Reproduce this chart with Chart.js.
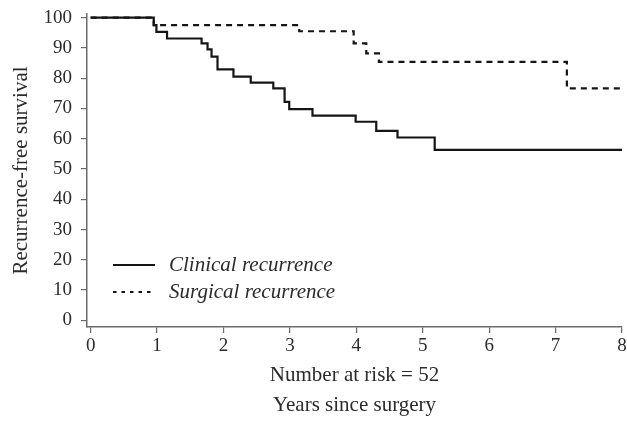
<!DOCTYPE html>
<html>
<head>
<meta charset="utf-8">
<script src="https://cdn.jsdelivr.net/npm/chart.js@4"></script>
<style>
  html, body { margin: 0; padding: 0; background: #fff; }
  canvas { display: block; }
</style>
</head>
<body>
<canvas id="kmChart" width="627" height="421"></canvas>
<script>
// Kaplan-Meier steps (years, % recurrence-free)
const clinicalYears = [0, 0.95, 0.99, 1.15, 1.67, 1.76, 1.82, 1.91, 2.15, 2.41, 2.75, 2.92, 2.99, 3.34, 3.99, 4.30, 4.62, 5.18, 8];
const clinicalSurvival = [100, 97.5, 95.3, 93.1, 91.5, 89.5, 87.1, 82.9, 80.5, 78.5, 76.6, 72.2, 69.8, 67.6, 65.6, 62.6, 60.4, 56.3, 56.3];

const surgicalYears = [0, 0.95, 3.14, 3.96, 4.15, 4.34, 7.17, 8];
const surgicalSurvival = [100, 97.5, 95.5, 91.5, 88.2, 85.4, 76.6, 76.6];

const xTicks = [0, 1, 2, 3, 4, 5, 6, 7, 8];
const yTicks = [0, 10, 20, 30, 40, 50, 60, 70, 80, 90, 100];

const seriesLabels = ['Clinical recurrence', 'Surgical recurrence'];
const xTitleLines = ['Number at risk = 52', 'Years since surgery'];
const yTitle = 'Recurrence-free survival';

const serif = "'Liberation Serif', 'Times New Roman', serif";
const axisGrey = '#6b6b6b';
const textColor = '#2b2b2b';
const lineColor = '#151515';

function toPoints(xs, ys) {
    return xs.map((x, i) => ({ x: x, y: ys[i] }));
}

// legend drawn inside the plot, lower left
const insideLegend = {
    id: 'insideLegend',
    afterDatasetsDraw(chart) {
        const ctx = chart.ctx;
        const area = chart.chartArea;
        const x0 = area.left + 26;
        const rows = [265, 292];
        ctx.save();
        chart.data.datasets.forEach((ds, i) => {
            const y = rows[i];
            ctx.beginPath();
            ctx.strokeStyle = ds.borderColor;
            ctx.lineWidth = ds.borderWidth;
            ctx.setLineDash(i ? [3.5, 5] : []);
            ctx.moveTo(x0, y);
            ctx.lineTo(x0 + 42, y);
            ctx.stroke();
            ctx.setLineDash([]);
            ctx.fillStyle = textColor;
            ctx.font = 'italic 21px ' + serif;
            ctx.textBaseline = 'middle';
            ctx.fillText(ds.label, x0 + 56, y);
        });
        ctx.restore();
    }
};

new Chart(document.getElementById('kmChart'), {
    type: 'line',
    data: {
        datasets: [{
            label: seriesLabels[0],
            data: toPoints(clinicalYears, clinicalSurvival),
            borderColor: lineColor,
            borderWidth: 2.2,
            stepped: 'before',
            pointRadius: 0,
            fill: false
        }, {
            label: seriesLabels[1],
            data: toPoints(surgicalYears, surgicalSurvival),
            borderColor: lineColor,
            borderWidth: 2.2,
            borderDash: [6, 5],
            stepped: 'before',
            pointRadius: 0,
            fill: false
        }]
    },
    options: {
        responsive: false,
        animation: false,
        maintainAspectRatio: false,
        devicePixelRatio: 1,
        layout: { padding: { top: 14, right: 5, left: 0, bottom: 0 } },
        plugins: {
            legend: { display: false },
            tooltip: { enabled: false }
        },
        scales: {
            x: {
                type: 'linear',
                min: -0.055,
                max: 8,
                afterBuildTicks(axis) { axis.ticks = xTicks.map(v => ({ value: v })); },
                afterFit(axis) {
                    axis.height = 94;
                    axis.paddingLeft = 0;
                    axis.paddingRight = 0;
                },
                border: { display: true, color: axisGrey, width: 1.5 },
                grid: { drawOnChartArea: false, drawTicks: true, tickLength: 6, color: axisGrey, lineWidth: 1.2 },
                ticks: {
                    color: textColor,
                    padding: 2,
                    maxRotation: 0,
                    autoSkip: false,
                    font: { family: serif, size: 19 }
                },
                title: {
                    display: true,
                    text: xTitleLines,
                    color: textColor,
                    font: { family: serif, size: 21, lineHeight: '30px' },
                    padding: { top: 0, bottom: 1 }
                }
            },
            y: {
                min: -2.2,
                max: 101.2,
                afterBuildTicks(axis) { axis.ticks = yTicks.map(v => ({ value: v })); },
                afterFit(axis) {
                    axis.width = 87;
                    axis.paddingTop = 0;
                    axis.paddingBottom = 0;
                },
                border: { display: true, color: axisGrey, width: 1.5 },
                grid: { drawOnChartArea: false, drawTicks: true, tickLength: 6, color: axisGrey, lineWidth: 1.2 },
                ticks: {
                    color: textColor,
                    padding: 9,
                    autoSkip: false,
                    font: { family: serif, size: 19 }
                },
                title: {
                    display: true,
                    text: yTitle,
                    color: textColor,
                    font: { family: serif, size: 21 },
                    padding: { top: 9, bottom: 0 }
                }
            }
        }
    },
    plugins: [insideLegend]
});
</script>
</body>
</html>
